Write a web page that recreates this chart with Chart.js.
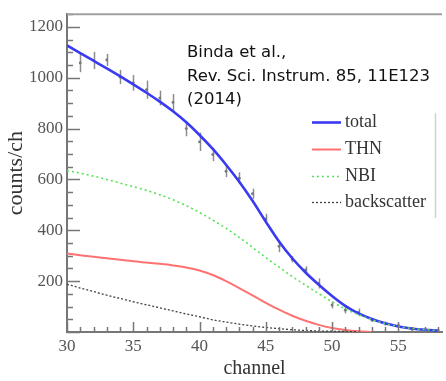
<!DOCTYPE html>
<html>
<head>
<meta charset="utf-8">
<script src="https://cdn.jsdelivr.net/npm/chart.js@4/dist/chart.umd.min.js"></script>
<style>
  html, body { margin: 0; padding: 0; background: #ffffff; }
  #wrap { width: 446px; height: 381px; position: relative; }
</style>
</head>
<body>
<div id="wrap"><canvas id="c"></canvas></div>
<script>
// ---- data ----
const channels = [30,31,32,33,34,35,36,37,38,39,40,41,42,43,44,45,46,47,48,49,50,51,52,53,54,55,56,57,58];
const totalFit = [1127,1097,1067,1037,1006,974,941,906,868,825,775,720,658,591,516,434,356,290,234,186,142,103,73,51,34,22,14,9,6];
const thnFit = [309,302,296,290,284,278,273,268,262,254,242,224,200,173,144,115,88,64,44,28,16,8,3,0,null,null,null,null,null];
const nbiFit = [635,625,613,600,586,572,557,540,520,497,470,440,408,372,333,293,255,218,184,151,119,91,68,49,33,22,14,9,6];
const backscatterFit = [188,173,159,145,132,119,107,95,83,71,60,48,39,31,24,18,13,9,6,4,3,2,1,null,null,null,null,null,null];

const dataChannels = [31,32,33,34,35,36,37,38,39,40,41,42,43,44,45,46,47,48,49,50,51,52,53,54,55,56,57,58];
const dataCounts = [1058,1068,1070,1003,980,953,920,903,800,748,698,632,605,544,445,337,286,244,191,106,86,77,47,33,25,12,8,6];
const dataErrors = [36,34,24,28,31,36,29,33,30,36,26,23,23,20,20,23,12,14,20,13,13,15,8,8,8,6,5,5];

const seriesLabels = ['total','THN','NBI','backscatter'];
const citationLines = ['Binda et al.,','Rev. Sci. Instrum. 85, 11E123','(2014)'];

const xTitle = 'channel';
const yTitle = 'counts/ch';

// ---- build datasets ----
const toXY = (xs, ys) => xs.map((x, i) => ({x: x, y: ys[i]}));

const seriesStyles = [
  {color: '#3a3af2', width: 2.6, dash: []},
  {color: '#ff7272', width: 2, dash: []},
  {color: '#58e058', width: 1.6, dash: [2, 3]},
  {color: '#444444', width: 1.3, dash: [2, 2]}
];
const seriesValues = [totalFit, thnFit, nbiFit, backscatterFit];

const datasets = [{
  label: 'data',
  type: 'scatter',
  data: toXY(dataChannels, dataCounts),
  errors: dataErrors,
  pointRadius: 1.4,
  pointBackgroundColor: '#777',
  pointBorderWidth: 0,
  showLine: false,
  order: 5
}];
seriesValues.forEach((vals, i) => {
  datasets.push({
    label: seriesLabels[i],
    data: toXY(channels, vals),
    borderColor: seriesStyles[i].color,
    borderWidth: seriesStyles[i].width,
    borderDash: seriesStyles[i].dash,
    pointRadius: 0,
    fill: false,
    tension: 0.4,
    cubicInterpolationMode: 'monotone',
    spanGaps: false,
    order: 4 - i
  });
});

// ---- plugins ----
const errorBars = {
  id: 'errorBars',
  beforeDatasetsDraw(chart) {
    const {ctx, scales: {x, y}} = chart;
    const ds = chart.data.datasets[0];
    ctx.save();
    ctx.strokeStyle = '#8c8c8c';
    ctx.lineWidth = 1.5;
    ds.data.forEach((p, i) => {
      const e = ds.errors[i];
      const px = Math.round(x.getPixelForValue(p.x)) + 0.5;
      ctx.beginPath();
      ctx.moveTo(px, y.getPixelForValue(p.y - e));
      ctx.lineTo(px, y.getPixelForValue(p.y + e));
      ctx.stroke();
    });
    ctx.restore();
  }
};

const innerTicks = {
  id: 'innerTicks',
  afterDraw(chart) {
    const {ctx, chartArea: a, scales: {x, y}} = chart;
    ctx.save();
    ctx.strokeStyle = '#777';
    ctx.lineWidth = 1.5;
    // y ticks
    for (let v = 0; v <= y.max; v += 50) {
      const py = Math.round(y.getPixelForValue(v)) + 0.5;
      const len = (v % 200 === 0) ? 13 : 6;
      ctx.beginPath(); ctx.moveTo(a.left, py); ctx.lineTo(a.left + len, py); ctx.stroke();
    }
    // x ticks
    for (let v = x.min; v <= x.max; v += 1) {
      const px = Math.round(x.getPixelForValue(v)) + 0.5;
      const len = (v % 5 === 0) ? 10 : 5;
      ctx.beginPath(); ctx.moveTo(px, a.bottom); ctx.lineTo(px, a.bottom - len); ctx.stroke();
    }
    // top frame line
    ctx.strokeStyle = '#a0a0a0';
    ctx.lineWidth = 2;
    ctx.beginPath(); ctx.moveTo(a.left, a.top); ctx.lineTo(a.right, a.top); ctx.stroke();

    // citation text
    ctx.fillStyle = '#111';
    ctx.font = '16.5px "DejaVu Sans"';
    ctx.textBaseline = 'middle';
    ctx.textAlign = 'left';
    citationLines.forEach((t, i) => ctx.fillText(t, a.left + 120, a.top + 39 + i * 23.5));

    // legend
    const lx = a.left + 245, ly = a.top + 108, gap = 26.7;
    chart.data.datasets.slice(1).forEach((ds, i) => {
      const yy = Math.round(ly + i * gap) + 0.5;
      ctx.strokeStyle = ds.borderColor;
      ctx.lineWidth = ds.borderWidth;
      ctx.setLineDash(ds.borderDash);
      ctx.beginPath(); ctx.moveTo(lx, yy); ctx.lineTo(lx + 29, yy); ctx.stroke();
      ctx.setLineDash([]);
      ctx.fillStyle = '#333';
      ctx.font = '18px "Liberation Serif"';
      ctx.fillText(ds.label, lx + 33, yy);
    });
    ctx.strokeStyle = '#d0d0d0';
    ctx.lineWidth = 1.5;
    ctx.beginPath(); ctx.moveTo(a.left + 368.5, a.top + 99); ctx.lineTo(a.left + 368.5, a.top + 204); ctx.stroke();
    ctx.restore();
  }
};

new Chart(document.getElementById('c'), {
  type: 'line',
  data: {datasets: datasets},
  options: {
    responsive: true,
    maintainAspectRatio: false,
    animation: false,
    layout: {padding: {top: 14, left: 0, right: 0, bottom: 0}},
    plugins: {legend: {display: false}, tooltip: {enabled: false}},
    scales: {
      x: {
        type: 'linear',
        min: 30,
        max: 58.3,
        ticks: {stepSize: 5, includeBounds: false, maxRotation: 0, padding: 4,
                color: '#555', font: {family: 'Liberation Serif', size: 17}},
        grid: {display: false, drawTicks: false},
        border: {display: true, color: '#777', width: 2},
        title: {display: true, text: xTitle, color: '#333',
                font: {family: 'Liberation Serif', size: 20}, padding: {top: 0, bottom: 0}},
        afterFit: s => { s.height = 49; }
      },
      y: {
        type: 'linear',
        min: 0,
        max: 1250,
        ticks: {stepSize: 200, includeBounds: false, padding: 4, color: '#555',
                font: {family: 'Liberation Serif', size: 17},
                callback: v => (v === 0 ? '' : v)},
        grid: {display: false, drawTicks: false},
        border: {display: true, color: '#777', width: 2},
        title: {display: true, text: yTitle, color: '#333',
                font: {family: 'Liberation Serif', size: 22}, padding: {top: 3, bottom: 0}},
        afterFit: s => { s.width = 67; }
      }
    }
  },
  plugins: [errorBars, innerTicks]
});
</script>
</body>
</html>
